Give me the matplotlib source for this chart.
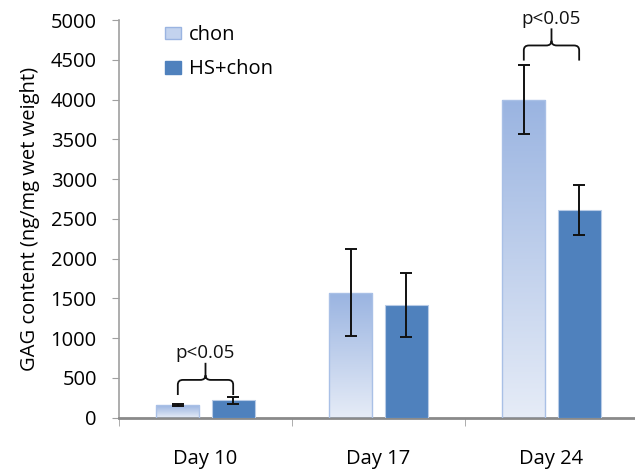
import numpy as np
import matplotlib
matplotlib.use("Agg")
import matplotlib.pyplot as plt
from matplotlib.patches import Patch, PathPatch
from matplotlib.path import Path
from matplotlib.colors import LinearSegmentedColormap

plt.rcParams['font.family'] = ['Open Sans', 'DejaVu Sans']

days = ["Day 10", "Day 17", "Day 24"]
series = ["chon", "HS+chon"]
chon = [160, 1570, 4000]
chon_err = [10, 550, 435]
hs_chon = [215, 1415, 2610]
hs_chon_err = [40, 400, 320]

# significance brackets: (category index, y of bracket ends, label)
sig = [(0, 283, "p<0.05"), (2, 4490, "p<0.05")]

fig = plt.figure(figsize=(6.35, 4.69), dpi=100)
ax = fig.add_axes([0.1874, 0.1098, 0.8173, 0.8475])

x = np.arange(len(days))
w = 0.25
off = 0.16

# chon bars with vertical gradient
grad = np.linspace(0, 1, 256).reshape(-1, 1)
cmap = LinearSegmentedColormap.from_list("g", ["#e6ecf7", "#9ab4e1"])
for xi, v in zip(x, chon):
    ax.imshow(grad, extent=[xi - off - w / 2, xi - off + w / 2, 0, v],
              origin="lower", aspect="auto", cmap=cmap, zorder=2)
ax.bar(x - off, chon, w, facecolor="none", edgecolor="#a9c0e6", linewidth=1, zorder=3)
ax.bar(x + off, hs_chon, w, color="#4f81bd", edgecolor="#b8cbe6", linewidth=0.8, zorder=3)

ax.errorbar(x - off, chon, yerr=chon_err, fmt="none", ecolor="#111111",
            elinewidth=1.4, capsize=4, capthick=1.4, zorder=4)
ax.errorbar(x + off, hs_chon, yerr=hs_chon_err, fmt="none", ecolor="#111111",
            elinewidth=1.4, capsize=4, capthick=1.4, zorder=4)

# curly brackets
rx, ry = 0.03, 60
for ci, yb, lab in sig:
    x0, x1 = ci - off, ci + off
    xc = ci
    ym = yb + 190
    yt = ym + 215
    verts = [(x0, yb), (x0, ym - ry), (x0, ym), (x0 + rx, ym),
             (xc - rx, ym), (xc, ym), (xc, ym + ry), (xc, yt),
             (xc, ym + ry), (xc, ym), (xc + rx, ym),
             (x1 - rx, ym), (x1, ym), (x1, ym - ry), (x1, yb)]
    codes = [Path.MOVETO, Path.LINETO, Path.CURVE3, Path.CURVE3,
             Path.LINETO, Path.CURVE3, Path.CURVE3, Path.LINETO,
             Path.MOVETO, Path.CURVE3, Path.CURVE3,
             Path.LINETO, Path.CURVE3, Path.CURVE3, Path.LINETO]
    ax.add_patch(PathPatch(Path(verts, codes), facecolor="none",
                           edgecolor="#111111", linewidth=1.3, zorder=5))
    ax.text(xc, yt + 10, lab, ha="center", va="bottom", fontsize=13.5, color="#111111")

ax.set_xlim(-0.5, 2.5)
ax.set_ylim(0, 5000)
ax.set_yticks(np.arange(0, 5001, 500))
ax.set_xticks(x)
ax.set_xticklabels(days)
ax.set_xticks([-0.5, 0.5, 1.5, 2.5], minor=True)
ax.tick_params(axis="x", which="major", length=0, pad=23, labelsize=14.5)
ax.tick_params(axis="x", which="minor", length=6, color="#a0a0a0", direction="out")
ax.tick_params(axis="y", length=5, color="#a0a0a0", pad=11, labelsize=14.5)
for s in ["top", "right"]:
    ax.spines[s].set_visible(False)
ax.spines["left"].set_color("#a0a0a0")
ax.spines["bottom"].set_color("#8a8a8a")
ax.spines["bottom"].set_linewidth(2)
ax.spines["left"].set_linewidth(1.2)
ax.set_ylabel("GAG content (ng/mg wet weight)", fontsize=14.5, labelpad=8)

handles = [Patch(facecolor="#c3d3ee", edgecolor="#9ab4e1", label=series[0]),
           Patch(facecolor="#4f81bd", edgecolor="#4f81bd", label=series[1])]
fig.legend(handles=handles, loc="upper left", bbox_to_anchor=(0.232, 0.985),
           frameon=False, fontsize=14.5, handlelength=0.75, handleheight=0.6,
           handletextpad=0.4, labelspacing=0.7)

fig.savefig("out.png", dpi=100)
